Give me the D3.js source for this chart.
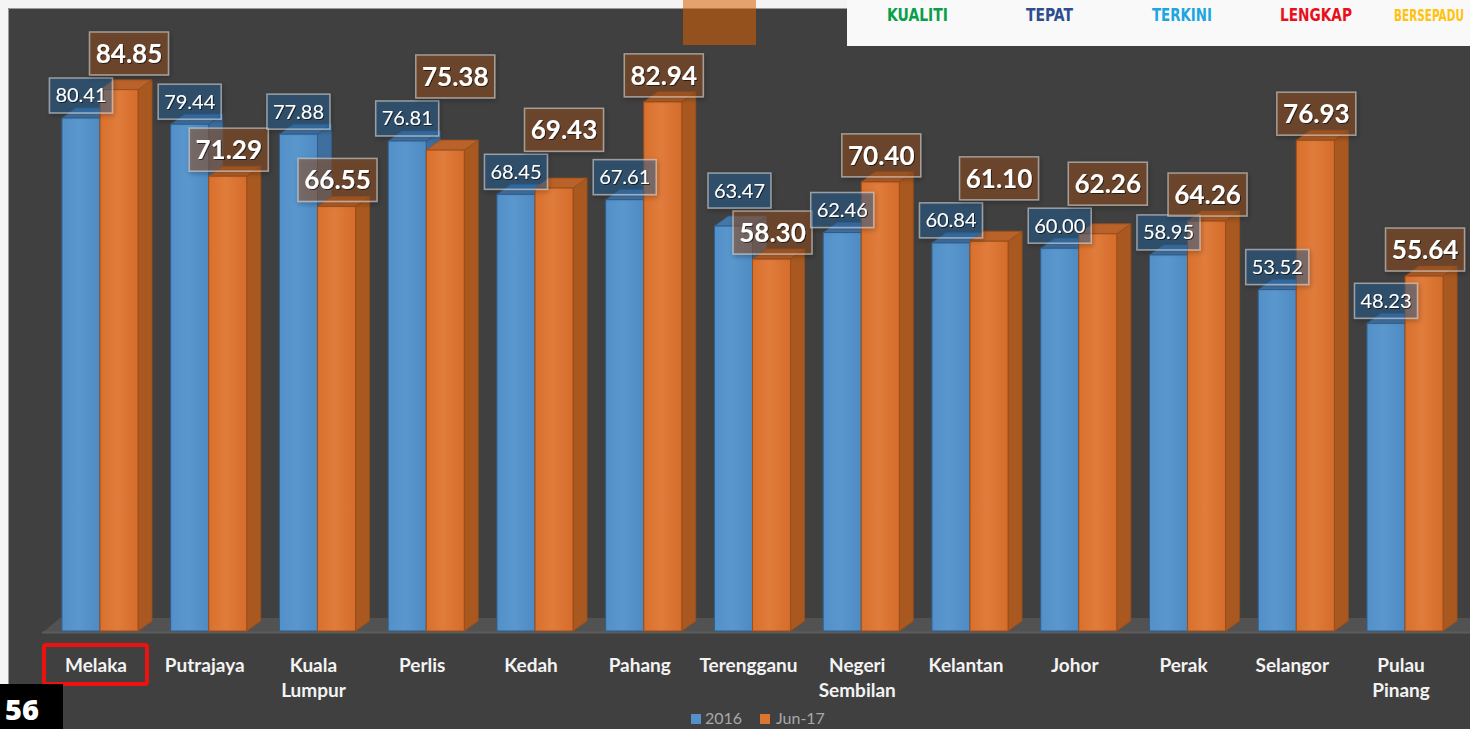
<!DOCTYPE html>
<html><head><meta charset="utf-8">
<script src="https://cdn.jsdelivr.net/npm/d3@7/dist/d3.min.js"></script>
<style>
html,body{margin:0;padding:0;background:#404040;overflow:hidden;}
svg{display:block;}
</style></head>
<body>
<svg id="chart" width="1470" height="729"></svg>
<script>
// ---------- data ----------
const categories = ["Melaka","Putrajaya","Kuala\nLumpur","Perlis","Kedah","Pahang","Terengganu","Negeri\nSembilan","Kelantan","Johor","Perak","Selangor","Pulau\nPinang"];
const series2016 = [80.41,79.44,77.88,76.81,68.45,67.61,63.47,62.46,60.84,60.00,58.95,53.52,48.23];
const seriesJun17 = [84.85,71.29,66.55,75.38,69.43,82.94,58.30,70.40,61.10,62.26,64.26,76.93,55.64];
const seriesNames = ["2016","Jun-17"];
const bannerWords = ["KUALITI","TEPAT","TERKINI","LENGKAP","BERSEPADU"];
const pageNumber = "56";
const highlighted = "Melaka";

// ---------- setup ----------
const W = 1470, H = 729;
const svg = d3.select("#chart");
const defs = svg.append("defs");

function grad(id, stops){
  const g = defs.append("linearGradient").attr("id",id).attr("x1","0").attr("x2","1").attr("y1","0").attr("y2","0");
  stops.forEach(s=>g.append("stop").attr("offset",s[0]).attr("stop-color",s[1]));
}
grad("gBlue",[[0,"#5390c8"],[0.45,"#5a97cd"],[1,"#4f8bc3"]]);
grad("gOrange",[[0,"#d9702d"],[0.45,"#e07c3c"],[1,"#d56c2a"]]);
const sh = defs.append("filter").attr("id","shadow").attr("x","-20%").attr("y","-20%").attr("width","140%").attr("height","150%");
sh.append("feDropShadow").attr("dx",1).attr("dy",2).attr("stdDeviation",2.5).attr("flood-color","#000").attr("flood-opacity",0.45);
const tsh = defs.append("filter").attr("id","tshadow").attr("x","-10%").attr("y","-20%").attr("width","120%").attr("height","150%");
tsh.append("feDropShadow").attr("dx",1).attr("dy",1).attr("stdDeviation",0.6).attr("flood-color","#000").attr("flood-opacity",0.6);

// background / frame
svg.append("rect").attr("width",W).attr("height",H).attr("fill","#f4f4f4");
svg.append("rect").attr("x",8).attr("y",8).attr("width",W-8).attr("height",H-8).attr("fill","#404040");
svg.append("path").attr("d",`M8.5,${H} V8.5 H${W}`).attr("fill","none").attr("stroke","#9a9a9a").attr("stroke-width",1);

// scales
const x = d3.scaleBand().domain(categories).range([45.6,1459.4]).padding(0);
const y = d3.scaleLinear().domain([0,100]).range([631,-7]);
const barW = x.bandwidth()*0.35;
const dx = 14, dy = 10;
const y0 = y(0);

// floor
svg.append("polygon")
  .attr("points",[[42,y0+2],[W,y0+2],[W,y0-13],[42+18,y0-13]].map(p=>p.join(",")).join(" "))
  .attr("fill","#525252");
svg.append("line").attr("x1",42).attr("x2",W).attr("y1",y0+1.5).attr("y2",y0+1.5).attr("stroke","#5c5c5c").attr("stroke-width",2);

// bars
const data = categories.map((c,i)=>({c, b:series2016[i], o:seriesJun17[i], cx:x(c)+x.bandwidth()/2}));
const gBars = svg.append("g");
function bar3d(g, left, val, front, top, side, stroke){
  const yt = y(val), r = left+barW;
  g.append("polygon").attr("points",`${r},${yt} ${r+dx},${yt-dy} ${r+dx},${y0-dy} ${r},${y0}`).attr("fill",side).attr("stroke",stroke).attr("stroke-width",0.8);
  g.append("polygon").attr("points",`${left},${yt} ${left+dx},${yt-dy} ${r+dx},${yt-dy} ${r},${yt}`).attr("fill",top).attr("stroke",stroke).attr("stroke-width",0.8);
  g.append("rect").attr("x",left).attr("y",yt).attr("width",barW).attr("height",y0-yt).attr("fill",front).attr("stroke",stroke).attr("stroke-width",1);
}
data.forEach(d=>{
  const g = gBars.append("g");
  bar3d(g, d.cx-barW, d.b, "url(#gBlue)", "#4576a8", "#3f6f9f", "#2f5f8f");
  bar3d(g, d.cx, d.o, "url(#gOrange)", "#b9622a", "#a9591f", "#9a4e1a");
});

// data labels with simple collision handling
const bH = 35, bWd = 63, oH = 43, oWd = 79;
const gLab = svg.append("g");
data.forEach(d=>{
  let bBottom = y(d.b)-5, oBottom = y(d.o)-5;
  let bX = d.cx - barW/2, oX = d.cx + barW/2 + 1;
  const overlap = Math.min(bBottom, oBottom) - Math.max(bBottom-bH, oBottom-oH);
  if (overlap > 4){
    if (d.b - d.o > 2){ bBottom = oBottom - oH - 3; bX += 6; }
    else { oBottom = bBottom - bH - 3; oX += 9; }
  }
  // blue
  gLab.append("rect").attr("x",bX-bWd/2).attr("y",bBottom-bH).attr("width",bWd).attr("height",bH)
    .attr("fill","rgba(40,100,160,0.42)").attr("stroke","rgba(215,215,215,0.6)").attr("stroke-width",1.5).attr("filter","url(#shadow)");
  gLab.append("text").attr("x",bX).attr("y",bBottom-bH/2+7).attr("text-anchor","middle")
    .attr("font-family","Lato, 'Open Sans', sans-serif").attr("font-size",20).attr("fill","#ffffff").attr("filter","url(#tshadow)")
    .text(d.b.toFixed(2));
  // orange
  gLab.append("rect").attr("x",oX-oWd/2).attr("y",oBottom-oH).attr("width",oWd).attr("height",oH)
    .attr("fill","rgba(150,80,30,0.48)").attr("stroke","rgba(215,215,215,0.6)").attr("stroke-width",1.5).attr("filter","url(#shadow)");
  gLab.append("text").attr("x",oX).attr("y",oBottom-oH/2+9.5).attr("text-anchor","middle")
    .attr("font-family","Lato, 'Open Sans', sans-serif").attr("font-weight",700).attr("font-size",26).attr("fill","#ffffff").attr("filter","url(#tshadow)")
    .text(d.o.toFixed(2));
});

// category axis labels
const gAx = svg.append("g");
data.forEach(d=>{
  const t = gAx.append("text").attr("text-anchor","middle")
    .attr("font-family","Lato, sans-serif").attr("font-weight",700).attr("font-size",19).attr("fill","#f3f3f3");
  d.c.split("\n").forEach((line,k)=>{
    t.append("tspan").attr("x",d.cx-4).attr("y",672+k*25).text(line);
  });
  if (d.c === highlighted){
    gAx.append("rect").attr("x",d.cx-56).attr("y",645).attr("width",103).attr("height",39).attr("rx",2)
      .attr("fill","none").attr("stroke","#ee1111").attr("stroke-width",4);
  }
});

// legend
const leg = svg.append("g").attr("font-family","Lato, sans-serif").attr("font-size",16).attr("fill","#a8a8a8");
leg.append("rect").attr("x",691).attr("y",714).attr("width",10).attr("height",10).attr("fill","#5590c8");
leg.append("text").attr("x",705).attr("y",724).text(seriesNames[0]);
leg.append("rect").attr("x",760).attr("y",714).attr("width",10).attr("height",10).attr("fill","#dd7431");
leg.append("text").attr("x",776).attr("y",724).text(seriesNames[1]);

// top overlays
svg.append("rect").attr("x",683).attr("y",0).attr("width",73).attr("height",45).attr("fill","rgba(216,95,0,0.55)");
svg.append("rect").attr("x",847).attr("y",0).attr("width",W-847).attr("height",46).attr("fill","#f9f9f9");
const bannerColors = ["#0a9e4a","#2d4d8e","#1ba6e0","#e8101c","#ffc20e"];
const bannerX = [887,1026,1152,1280,1394];
const bannerLen = [61,47,60,72,70];
const bannerHeight = [1,1,1,1,0.85];
bannerWords.forEach((w,i)=>{
  const g = svg.append("g");
  const t = g.append("text").attr("x",0).attr("y",0)
    .attr("font-family","'DejaVu Sans Condensed','DejaVu Sans',sans-serif").attr("font-weight",700).attr("font-size",18)
    .attr("fill",bannerColors[i]).text(w);
  const natural = t.node().getComputedTextLength();
  g.attr("transform",`translate(${bannerX[i]},21) scale(${bannerLen[i]/natural},${bannerHeight[i]})`);
});

// page number
svg.append("rect").attr("x",0).attr("y",684).attr("width",63).attr("height",H-684).attr("fill","#000");
svg.append("text").attr("x",5).attr("y",720).attr("font-family","'Open Sans', Lato, sans-serif").attr("font-weight",800)
  .attr("font-size",29).attr("fill","#fff").text(pageNumber);
</script>
</body></html>
